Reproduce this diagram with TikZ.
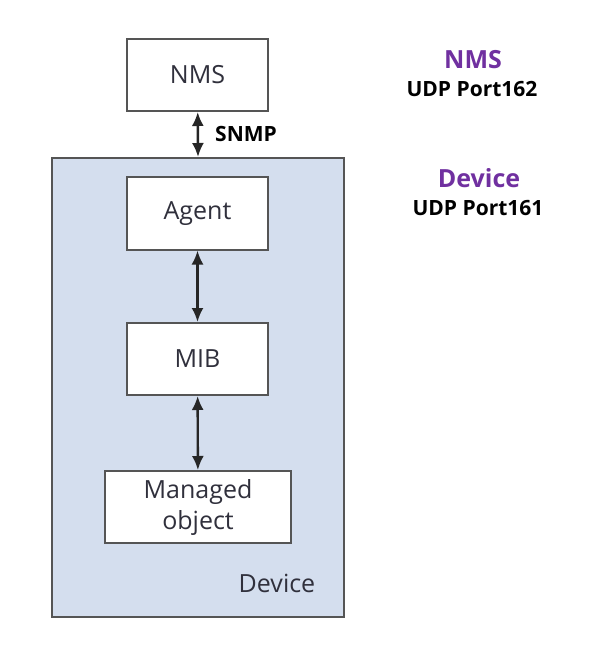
\documentclass[tikz,border=0pt]{standalone}
\usepackage{fontspec}
\setmainfont{Open Sans}
\usetikzlibrary{arrows.meta}
\definecolor{devfill}{HTML}{D4DEEE}
\definecolor{lbl}{HTML}{7030A0}
\definecolor{bord}{HTML}{555555}
\definecolor{txt}{HTML}{30303C}
\tikzstyle{bx}=[draw=bord,line width=2pt,fill=white,minimum width=141pt,minimum height=72pt,inner sep=0pt,text=txt,font=\fontsize{25}{31}\selectfont]
\tikzstyle{lk}=[{Latex[length=14pt,width=12pt]}-{Latex[length=14pt,width=12pt]},line width=2.4pt,draw=black!85]
\tikzstyle{port}=[font=\bfseries\fontsize{21}{22}\selectfont]
\tikzstyle{side}=[text=lbl,font=\bfseries\fontsize{25}{26}\selectfont]

\begin{document}
\begin{tikzpicture}[x=1pt,y=-1pt]
\useasboundingbox (0,0) rectangle (598,652);
\node[draw=bord,line width=2pt,fill=devfill,minimum width=292pt,minimum height=459pt] (dev) at (198,387.5) {};
\node[bx] (nms) at (197.5,75) {NMS};
\node[bx] (agent) at (197.5,213.5) {Agent};
\node[bx] (mib) at (197.5,359) {MIB};
\node[bx,minimum width=186pt,align=center] (obj) at (198,507) {Managed\\object};
\node[text=txt,font=\fontsize{25}{26}\selectfont] (devlbl) at (277,583) {Device};
\draw[lk] (nms) -- (dev.north);
\draw[lk] (agent) -- (mib);
\draw[lk] (mib) -- (obj);
\node[font=\bfseries\fontsize{21}{22}\selectfont] (snmp) at (246,134) {SNMP};
\node[side] (nmsside) at (473,60) {NMS};
\node[port] (p162) at (472,89) {UDP Port162};
\node[side] (devside) at (479,178) {Device};
\node[port] (p161) at (478,208) {UDP Port161};
\end{tikzpicture}
\end{document}
